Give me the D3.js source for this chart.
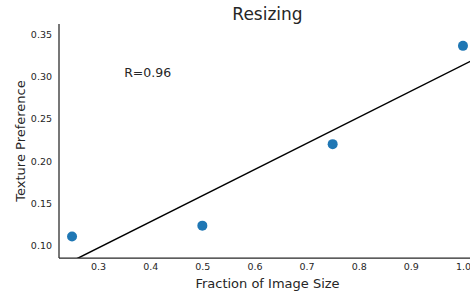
<!DOCTYPE html>
<html>
<head>
<meta charset="utf-8">
<script src="https://cdn.jsdelivr.net/npm/d3@7"></script>
<style>
  body { margin: 0; background: #fff; }
  svg { font-family: "DejaVu Sans", sans-serif; }
</style>
</head>
<body>
<div id="chart"></div>
<script>
// data
const sizes = [0.25, 0.5, 0.75, 1.0];
const preference = [0.110, 0.123, 0.220, 0.337];
const xTicks = [0.3, 0.4, 0.5, 0.6, 0.7, 0.8, 0.9, 1.0];
const yTicks = [0.10, 0.15, 0.20, 0.25, 0.30, 0.35];
const rLabel = 'R=0.96';

const width = 470, height = 294;
const margin = {t:24, r:-6, b:36, l:59};
const w = width - margin.l - margin.r;
const h = height - margin.t - margin.b;

const svg = d3.select('#chart')
  .append('svg')
  .attr('width', width)
  .attr('height', height);

const plot = svg.append('g')
  .attr('transform', `translate(${margin.l},${margin.t})`);

const scaleX = d3.scaleLinear().domain([0.225, 1.025]).range([0, w]);
const scaleY = d3.scaleLinear().domain([0.0845, 0.363]).range([h, 0]);

// least squares fit
const mx = d3.mean(sizes), my = d3.mean(preference);
let sxy = 0, sxx = 0;
sizes.forEach((x, i) => { sxy += (x - mx) * (preference[i] - my); sxx += (x - mx) * (x - mx); });
const slope = sxy / sxx;
const intercept = my - slope * mx;

plot.append('clipPath').attr('id', 'clip')
  .append('rect').attr('width', w).attr('height', h);

const xd = scaleX.domain();
plot.append('line')
  .attr('clip-path', 'url(#clip)')
  .attr('x1', scaleX(xd[0])).attr('y1', scaleY(intercept + slope * xd[0]))
  .attr('x2', scaleX(xd[1])).attr('y2', scaleY(intercept + slope * xd[1]))
  .style('stroke', '#000')
  .style('stroke-width', 1.5);

plot.selectAll('.dot')
  .data(sizes.map((x, i) => ({x: x, y: preference[i]})))
  .enter()
  .append('circle')
  .attr('class', 'dot')
  .attr('cx', d => scaleX(d.x))
  .attr('cy', d => scaleY(d.y))
  .attr('r', 5)
  .style('fill', '#1f77b4');

// axes
const axisX = d3.axisBottom(scaleX).tickValues(xTicks).tickSize(0).tickPadding(5)
  .tickFormat(d3.format('.1f'));
const axisY = d3.axisLeft(scaleY).tickValues(yTicks).tickSize(0).tickPadding(7)
  .tickFormat(d3.format('.2f'));

const gx = plot.append('g')
  .attr('transform', `translate(0,${h})`)
  .call(axisX);
const gy = plot.append('g').call(axisY);

[gx, gy].forEach(g => {
  g.select('.domain').style('stroke', '#262626').style('stroke-width', 1.25);
  g.selectAll('text').style('font-size', '9.5px').style('fill', '#262626')
    .style('font-family', '"DejaVu Sans", sans-serif');
});
gx.select('.domain').attr('d', `M0,0H${w}`);
gy.select('.domain').attr('d', `M0,${h}V0`);

plot.append('text')
  .attr('x', scaleX(0.35))
  .attr('y', scaleY(0.30))
  .style('font-size', '12.5px')
  .style('fill', '#262626')
  .text(rLabel);

svg.append('text')
  .attr('x', margin.l + w / 2)
  .attr('y', 20)
  .attr('text-anchor', 'middle')
  .style('font-size', '17px')
  .style('fill', '#262626')
  .text('Resizing');

svg.append('text')
  .attr('x', margin.l + w / 2)
  .attr('y', 288)
  .attr('text-anchor', 'middle')
  .style('font-size', '13px')
  .style('fill', '#262626')
  .text('Fraction of Image Size');

svg.append('text')
  .attr('transform', `translate(25,${margin.t + h / 2}) rotate(-90)`)
  .attr('text-anchor', 'middle')
  .style('font-size', '13px')
  .style('fill', '#262626')
  .text('Texture Preference');
</script>
</body>
</html>
